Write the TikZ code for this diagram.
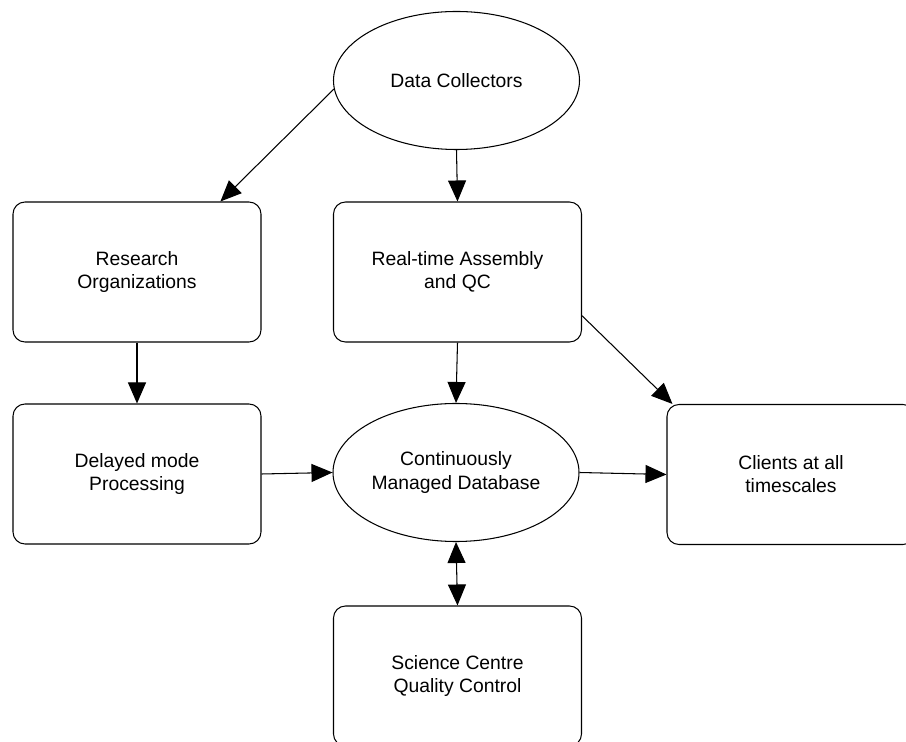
\documentclass[tikz,border=0pt]{standalone}
\usepackage{fontspec}
\setmainfont{Liberation Sans}
\usetikzlibrary{shapes,arrows.meta,calc}

\begin{document}
\begin{tikzpicture}[x=0.2cm,y=0.2cm,line width=0.6pt,
  every node/.style={draw,align=center,font=\fontsize{11}{13.1}\selectfont},
  box/.style={shape=rectangle,rounded corners=0.24cm,minimum width=4.96cm,minimum height=2.8cm},
  blob/.style={shape=ellipse,inner sep=0pt,minimum width=4.92cm,minimum height=2.76cm}]

  \useasboundingbox (0,0) rectangle (90.6,-74.2);
  \clip (0,0) rectangle (90.6,-74.2);

  % Specification of nodes (position, etc.)
  \node[blob] (coll) at (45.65,-8.05) {Data Collectors};
  \node[box] (res) at (13.7,-27.2) {Research\\Organizations};
  \node[box] (rt) at (45.75,-27.2) {Real-time Assembly\\and QC};
  \node[box] (del) at (13.7,-47.4) {Delayed mode\\Processing};
  \node[blob] (db) at (45.6,-47.25) {Continuously\\Managed Database};
  \node[box] (cli) at (79.1,-47.45) {Clients at all\\timescales};
  \node[box] (sci) at (45.75,-67.6) {Science Centre\\Quality Control};

  \begin{scope}[>={Triangle[length=0.42cm,width=0.36cm]},->]
    \draw (coll.184) -- ($(res.north west)!0.835!(res.north east)$);
    \draw (coll.south) -- (rt.north);
    \draw (res.south) -- (del.north);
    \draw (rt.south) -- (db.north);
    \draw ($(rt.north east)!0.81!(rt.south east)$) -- ([xshift=0.12cm]cli.north west);
    \draw (del.east) -- (db.west);
    \draw (db.east) -- (cli.west);
    \draw[<->] (db.south) -- (sci.north);
  \end{scope}

\end{tikzpicture}
\end{document}
